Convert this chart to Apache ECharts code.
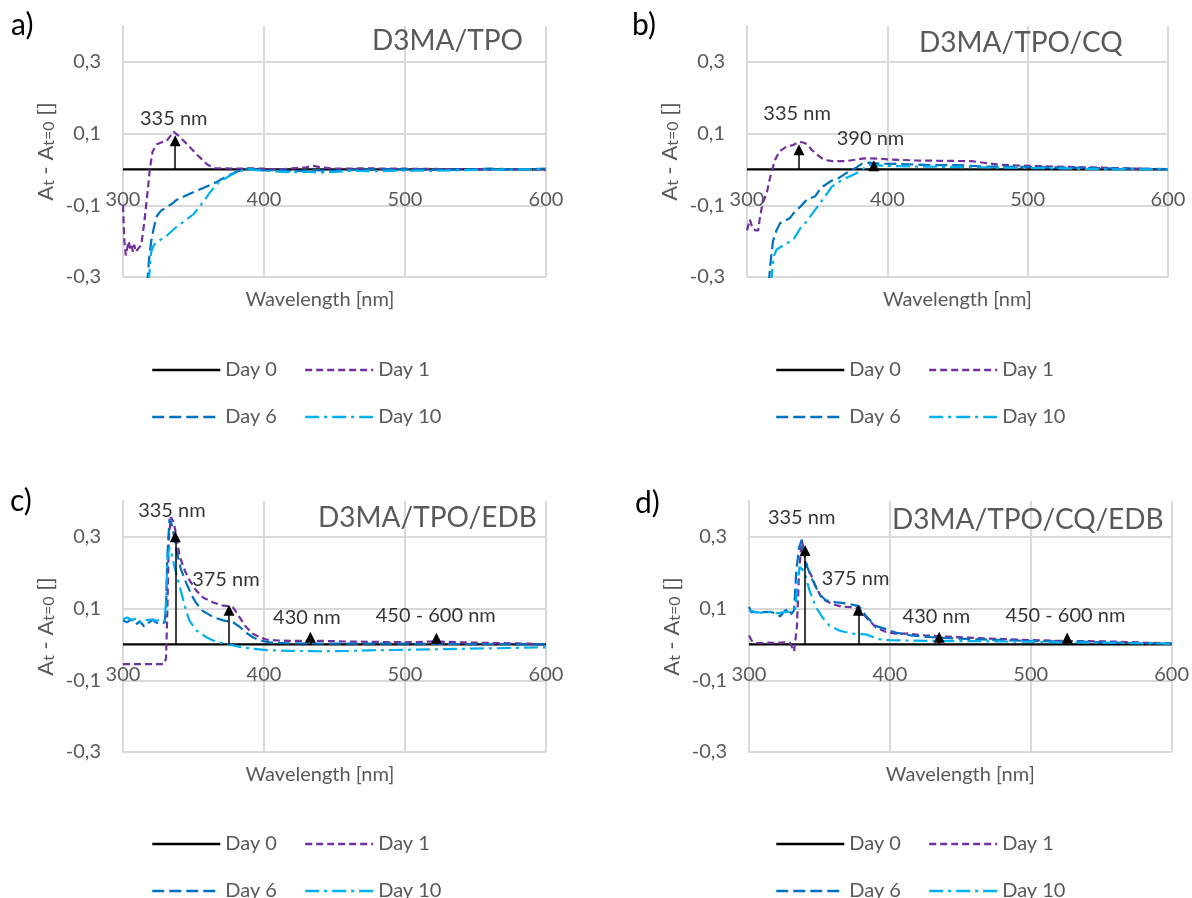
<!DOCTYPE html>
<html>
<head>
<meta charset="utf-8">
<script src="https://cdn.jsdelivr.net/npm/echarts@6/dist/echarts.min.js"></script>
<style>html,body{margin:0;padding:0;background:#fff}#c{width:1192px;height:898px}</style>
</head>
<body>
<div id="c"></div>
<script>
// ---------- data ----------
const seriesNames = ['Day 0', 'Day 1', 'Day 6', 'Day 10'];
const panelLetters = ['a)', 'b)', 'c)', 'd)'];
const panelTitles = ['D3MA/TPO', 'D3MA/TPO/CQ', 'D3MA/TPO/EDB', 'D3MA/TPO/CQ/EDB'];
const xTicks = [300, 400, 500, 600];
const yTicks = [-0.3, -0.1, 0.1, 0.3];

const day0 = [[300,0],[400,0],[500,0],[600,0]];

// Panel a) D3MA/TPO
const aDay1 = [[300,-0.10],[301,-0.20],[302,-0.24],[303,-0.22],[304,-0.20],[305,-0.22],[306,-0.21],[307,-0.23],[308,-0.21],[309,-0.23],[311,-0.22],[313,-0.21],[315,-0.15],[317,-0.08],[319,0.0],[321,0.05],[324,0.07],[327,0.075],[331,0.08],[334,0.095],[336,0.105],[339,0.095],[343,0.08],[348,0.06],[352,0.043],[356,0.028],[360,0.013],[365,0.004],[370,0.003],[380,0.002],[390,0.003],[400,0.002],[410,0.0],[420,0.003],[430,0.006],[435,0.01],[440,0.006],[450,0.002],[470,0.003],[500,0.002],[530,0.001],[560,0.0],[590,0.001],[600,-0.002]];
const aDay6 = [[300,-0.40],[316,-0.40],[317.5,-0.30],[318.5,-0.25],[320,-0.20],[322,-0.16],[324,-0.13],[327,-0.115],[331,-0.105],[335,-0.095],[338,-0.085],[345,-0.072],[352,-0.06],[359,-0.048],[366,-0.036],[373,-0.02],[380,-0.007],[388,0.002],[395,0.0],[400,-0.003],[410,-0.002],[420,-0.005],[435,-0.002],[450,-0.004],[465,-0.001],[480,0.0],[500,0.001],[520,-0.001],[540,0.0],[560,0.002],[580,0.0],[600,0.002]];
const aDay10 = [[300,-0.40],[317,-0.40],[318.5,-0.30],[320,-0.23],[322,-0.21],[325,-0.20],[331,-0.185],[338,-0.16],[345,-0.14],[350,-0.125],[354,-0.105],[358,-0.085],[362,-0.062],[368,-0.036],[376,-0.017],[383,-0.004],[390,0.0],[400,-0.004],[410,-0.006],[420,-0.008],[430,-0.006],[440,-0.009],[450,-0.007],[460,-0.004],[480,-0.005],[500,-0.003],[520,-0.004],[540,-0.002],[560,-0.001],[580,0.0],[600,0.0]];

// Panel b) D3MA/TPO/CQ
const bDay1 = [[300,-0.17],[302,-0.14],[304,-0.165],[306,-0.17],[308,-0.17],[309,-0.14],[311,-0.095],[314,-0.067],[316,-0.03],[318,0.0],[320,0.026],[323,0.05],[328,0.063],[333,0.068],[337,0.077],[340,0.075],[343,0.07],[346,0.055],[349,0.044],[353,0.032],[356,0.026],[361,0.023],[370,0.023],[377,0.027],[382,0.03],[387,0.031],[395,0.03],[400,0.028],[420,0.025],[440,0.024],[460,0.023],[470,0.018],[480,0.013],[500,0.01],[520,0.008],[540,0.006],[560,0.004],[580,0.002],[600,0.0]];
const bDay6 = [[300,-0.40],[315,-0.40],[315.5,-0.32],[316.5,-0.27],[318.5,-0.20],[321,-0.17],[323.5,-0.15],[327,-0.143],[330.5,-0.136],[334,-0.118],[338,-0.104],[342.5,-0.085],[348.5,-0.075],[353,-0.05],[360.5,-0.031],[365,-0.025],[372.5,-0.006],[377,0.003],[382,0.016],[387,0.019],[395,0.016],[410,0.015],[430,0.012],[450,0.012],[470,0.008],[500,0.007],[530,0.005],[560,0.003],[600,0.001]];
const bDay10 = [[300,-0.40],[317,-0.40],[317.5,-0.30],[319,-0.243],[321,-0.224],[324.5,-0.215],[328,-0.207],[333,-0.196],[338,-0.164],[342.5,-0.145],[348.5,-0.113],[355.5,-0.076],[360.5,-0.048],[367.5,-0.03],[375,-0.016],[380,-0.006],[384.5,0.007],[387,0.012],[400,0.01],[420,0.008],[450,0.007],[480,0.005],[520,0.003],[560,0.0],[600,0.0]];

// Panel c) D3MA/TPO/EDB
const cDay1 = [[300,-0.055],[310,-0.055],[320,-0.055],[329,-0.055],[330.5,-0.04],[331.5,0.1],[332.5,0.3],[334,0.355],[336,0.34],[338,0.30],[340,0.25],[342,0.225],[344,0.205],[347,0.18],[352,0.15],[357,0.13],[364,0.117],[371,0.108],[375,0.107],[378,0.103],[382,0.08],[387,0.05],[392,0.03],[397,0.02],[402,0.013],[410,0.011],[420,0.01],[440,0.01],[460,0.008],[480,0.007],[500,0.006],[520,0.008],[540,0.006],[560,0.004],[580,0.003],[600,0.0]];
const cDay6 = [[300,0.067],[303,0.062],[306,0.07],[309,0.055],[312,0.065],[315,0.05],[318,0.06],[321,0.068],[324,0.06],[327,0.064],[329.5,0.06],[330.5,0.1],[331.5,0.25],[333,0.35],[335,0.33],[337.5,0.27],[341,0.21],[345,0.17],[349,0.135],[352,0.115],[356,0.095],[364,0.076],[371,0.067],[378,0.062],[383,0.048],[387.5,0.032],[392,0.02],[397,0.011],[405,0.005],[420,0.003],[450,0.002],[500,0.002],[550,0.001],[600,0.0]];
const cDay10 = [[300,0.07],[303,0.075],[306,0.068],[309,0.072],[312,0.06],[315,0.07],[318,0.068],[321,0.07],[324,0.066],[327,0.07],[329.5,0.065],[330.5,0.12],[331.5,0.24],[333,0.27],[334.5,0.25],[337,0.21],[341,0.15],[344,0.105],[347,0.067],[352,0.039],[359,0.02],[366,0.007],[373,0.002],[383,-0.007],[392,-0.012],[402,-0.016],[420,-0.018],[440,-0.019],[460,-0.018],[480,-0.016],[500,-0.015],[530,-0.013],[560,-0.011],[600,-0.008]];

// Panel d) D3MA/TPO/CQ/EDB
const dDay1 = [[300,0.025],[302,0.01],[305,0.004],[310,0.004],[315,0.005],[320,0.004],[325,0.006],[329,0.005],[332,-0.02],[334,0.05],[335.5,0.2],[337.5,0.29],[339,0.26],[340.5,0.215],[344,0.195],[347.5,0.16],[352,0.127],[359,0.113],[366,0.105],[373,0.104],[378,0.1],[383,0.076],[390,0.048],[397,0.035],[404,0.03],[413,0.03],[425,0.025],[440,0.022],[460,0.018],[480,0.015],[500,0.012],[520,0.01],[540,0.009],[560,0.008],[580,0.005],[600,0.003]];
const dDay6 = [[300,0.105],[301.5,0.09],[305,0.09],[310,0.09],[315,0.091],[320,0.085],[322,0.078],[325,0.092],[328,0.1],[330,0.085],[332,0.095],[333.5,0.2],[335.5,0.27],[337.5,0.292],[339,0.255],[341.5,0.215],[345,0.18],[350,0.14],[354.5,0.123],[361,0.118],[371,0.113],[378,0.107],[383,0.08],[389,0.053],[396,0.044],[404,0.033],[415,0.025],[430,0.02],[450,0.016],[470,0.013],[490,0.011],[510,0.009],[530,0.008],[550,0.006],[570,0.004],[600,0.002]];
const dDay10 = [[300,0.095],[305,0.09],[310,0.088],[315,0.09],[320,0.087],[325,0.09],[330,0.092],[333,0.1],[334.5,0.18],[336,0.216],[339,0.205],[343,0.15],[347.5,0.104],[352,0.076],[357,0.053],[364,0.039],[373,0.03],[383,0.028],[392,0.015],[400,0.012],[411,0.011],[430,0.01],[460,0.009],[490,0.008],[520,0.006],[550,0.005],[580,0.003],[600,0.002]];

// annotations: [wavelength, value, text] and arrows: [wavelength, arrow end value]
const aNotes = [[336,0.1425,'335 nm']];
const bNotes = [[335.7,0.156,'335 nm'],[388,0.087,'390 nm']];
const cNotes = [[334.7,0.374,'335 nm'],[373,0.182,'375 nm'],[430.4,0.075,'430 nm'],[521.8,0.081,'450 - 600 nm']];
const dNotes = [[337.4,0.355,'335 nm'],[375.7,0.184,'375 nm'],[433,0.078,'430 nm'],[524.6,0.081,'450 - 600 nm']];
const aArrows = [[337,0.08]];
const bArrows = [[337,0.055],[390.4,0.01]];
const cArrows = [[337.1,0.30],[375.2,0.095],[432.9,0.02],[522.3,0.017]];
const dArrows = [[339.8,0.262],[377.6,0.095],[435,0.02],[525.9,0.018]];

const panelData = [
  {d1: aDay1, d6: aDay6, d10: aDay10, notes: aNotes, arrows: aArrows},
  {d1: bDay1, d6: bDay6, d10: bDay10, notes: bNotes, arrows: bArrows},
  {d1: cDay1, d6: cDay6, d10: cDay10, notes: cNotes, arrows: cArrows},
  {d1: dDay1, d6: dDay6, d10: dDay10, notes: dNotes, arrows: dArrows}
];

// ---------- layout / style ----------
const FONT = 'Lato';
const GRAY = '#595959';
const GRID_C = '#d9d9d9';
const grids = [
  {left:123, top:26, width:423, height:251},
  {left:747, top:26, width:421, height:251},
  {left:123, top:501, width:423, height:251},
  {left:749, top:501, width:423, height:251}
];
const Y_MAX = 0.4;
const letterPos = [[11,10],[632,10],[10,486],[635,488]];
const titlePos = [[372,27],[919,29],[318,504],[892,506]];
const legendPos = [[151,360],[775,360],[151,834],[775,834]];
const xNamePad = [[0,29,0,0],[0,0,0,0],[0,29,0,0],[0,0,0,0]];
const styles = {
  'Day 0': {color:'#000000', type:'solid'},
  'Day 1': {color:'#7030a0', type:[7,4]},
  'Day 6': {color:'#0070c0', type:[12,5]},
  'Day 10': {color:'#00b0f0', type:[14,5,3,5]}
};
const fmtY = v => (Math.abs(v) > 0.35 ? '' : v.toFixed(1).replace('.', ','));

const option = {
  animation: false,
  backgroundColor: '#ffffff',
  textStyle: {fontFamily: FONT},
  title: [],
  legend: [],
  grid: grids.map(g => Object.assign({containLabel:false}, g)),
  xAxis: [],
  yAxis: [],
  series: []
};

panelData.forEach((p, i) => {
  const g = grids[i];
  // distance in px from the grid bottom to the value 0, used to put the x labels next to the zero line
  const zeroFromBottom = g.height * (0 - yTicks[0]) / (Y_MAX - yTicks[0]);
  option.title.push({text: panelLetters[i], left: letterPos[i][0], top: letterPos[i][1], padding: 0,
    textStyle: {fontSize: 30, color: '#000', fontWeight: 'normal', fontFamily: FONT}});
  option.title.push({text: panelTitles[i], left: titlePos[i][0], top: titlePos[i][1], padding: 0,
    textStyle: {fontSize: 28, color: GRAY, fontWeight: 'normal', fontFamily: FONT}});
  option.legend.push({
    data: seriesNames, left: legendPos[i][0], top: legendPos[i][1], width: 300, padding: 0,
    orient: 'horizontal', itemWidth: 68, itemHeight: 14, itemGap: 27,
    itemStyle: {opacity: 0, color: 'rgba(0,0,0,0)', borderWidth: 0},
    lineStyle: {width: 2.5},
    textStyle: {fontSize: 20, color: GRAY, fontFamily: FONT, lineHeight: 17}
  });
  option.xAxis.push({
    type: 'value', gridIndex: i, position: 'bottom', min: xTicks[0], max: xTicks[xTicks.length-1], interval: 100,
    axisLine: {show: false, onZero: false},
    axisTick: {show: false},
    axisLabel: {color: GRAY, fontSize: 20, fontFamily: FONT, margin: Math.round(21 - zeroFromBottom), lineHeight: 20},
    splitLine: {show: true, lineStyle: {color: GRID_C, width: 2}},
    name: 'Wavelength [nm]', nameLocation: 'middle', nameGap: 13,
    nameTextStyle: {color: GRAY, fontSize: 20, fontFamily: FONT, padding: xNamePad[i], verticalAlign: 'top'}
  });
  option.yAxis.push({
    type: 'value', gridIndex: i, min: yTicks[0], max: Y_MAX, interval: 0.2,
    axisLine: {show: true, onZero: false, lineStyle: {color: GRID_C, width: 2}},
    axisTick: {show: false},
    axisLabel: {formatter: fmtY, color: GRAY, fontSize: 20, fontFamily: FONT, margin: 22},
    splitLine: {show: true, showMaxLine: false, lineStyle: {color: GRID_C, width: 2}},
    name: '{a|A}{s|t}{a| - A}{s|t=0}{a| []}', nameLocation: 'middle', nameGap: 66, nameRotate: 90,
    nameTextStyle: {color: GRAY, fontFamily: FONT,
      rich: {
        a: {fontSize: 22, color: GRAY, fontFamily: FONT, lineHeight: 26, verticalAlign: 'bottom'},
        s: {fontSize: 16, color: GRAY, fontFamily: FONT, lineHeight: 10, verticalAlign: 'bottom'}
      }}
  });
  const lines = [['Day 0', day0], ['Day 1', p.d1], ['Day 6', p.d6], ['Day 10', p.d10]];
  lines.forEach(([name, data]) => {
    option.series.push({
      type: 'line', name: name, xAxisIndex: i, yAxisIndex: i, data: data,
      symbol: 'none', showSymbol: false, clip: true, silent: true,
      lineStyle: {color: styles[name].color, width: 2.2, type: styles[name].type},
      itemStyle: {color: styles[name].color}
    });
  });
  option.series.push({
    type: 'scatter', name: 'annotations', xAxisIndex: i, yAxisIndex: i, silent: true,
    data: p.notes.map(n => [n[0], n[1]]),
    symbolSize: 1, itemStyle: {color: 'rgba(0,0,0,0)'},
    label: {show: true, position: 'inside', color: '#000', fontSize: 20, fontFamily: FONT,
      formatter: prm => p.notes[prm.dataIndex][2]},
    markLine: {
      silent: true, animation: false, symbol: ['none', 'triangle'], symbolSize: 11,
      label: {show: false}, lineStyle: {color: '#000', width: 1.5, type: 'solid', opacity: 1},
      itemStyle: {color: '#000'},
      emphasis: {disabled: true},
      data: p.arrows.map(a => [{coord: [a[0], 0]}, {coord: [a[0], a[1]]}])
    }
  });
});

const chart = echarts.init(document.getElementById('c'), null, {renderer: 'canvas'});
chart.setOption(option);
</script>
</body>
</html>
